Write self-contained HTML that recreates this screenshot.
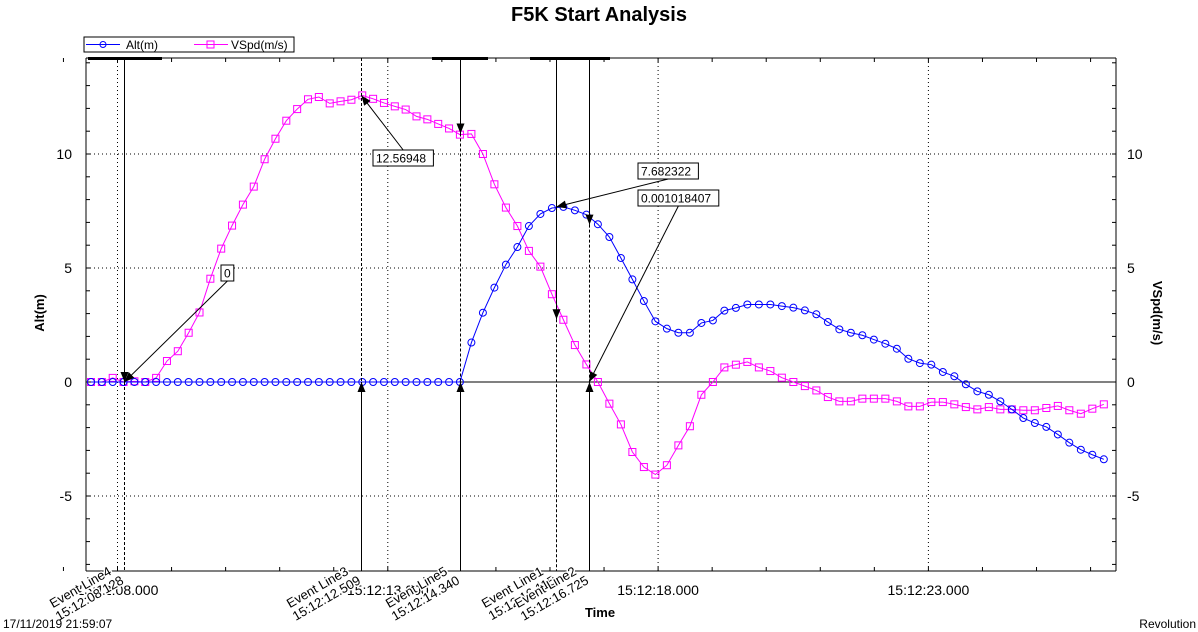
<!DOCTYPE html>
<html><head><meta charset="utf-8"><style>
body{margin:0;background:#fff;}
svg{display:block;font-family:"Liberation Sans",sans-serif;}
</style></head><body>
<svg id="chart" width="1198" height="632" viewBox="0 0 1198 632" xmlns="http://www.w3.org/2000/svg">
<text x="599" y="21" text-anchor="middle" font-size="20" font-weight="bold">F5K Start Analysis</text>
<g>
<rect x="84" y="37" width="210" height="15" fill="#fff" stroke="#000"/>
<line x1="86" y1="44.5" x2="120" y2="44.5" stroke="#00f"/><circle cx="103" cy="44.5" r="3" fill="none" stroke="#00f"/>
<text x="126" y="49" font-size="12">Alt(m)</text>
<line x1="194" y1="44.5" x2="228" y2="44.5" stroke="#f0f"/><rect x="207" y="41" width="7" height="7" fill="none" stroke="#f0f"/>
<text x="231" y="49" font-size="12">VSpd(m/s)</text>
</g>
<g id="grid"></g>
<g id="axes"></g>
<g id="series"></g>
<g id="events"></g>
<text x="600" y="617" text-anchor="middle" font-size="13" font-weight="bold">Time</text>
<text transform="translate(44,313) rotate(-90)" text-anchor="middle" font-size="13" font-weight="bold">Alt(m)</text>
<text transform="translate(1153,313) rotate(90)" text-anchor="middle" font-size="13" font-weight="bold">VSpd(m/s)</text>
<text x="3" y="628" font-size="12">17/11/2019 21:59:07</text>
<text x="1196" y="628" text-anchor="end" font-size="12">Revolution</text>
</svg>
<script>
const altValues=[0,0,0,0,0,0,0,0,0,0,0,0,0,0,0,0,0,0,0,0,0,0,0,0,0,0,0,0,0,0,0,0,0,0,0,
1.73,3.04,4.14,5.15,5.92,6.84,7.37,7.63,7.68,7.53,7.34,6.92,6.36,5.44,4.50,3.55,2.66,2.34,2.16,2.16,2.59,2.70,3.13,3.25,3.40,3.40,3.40,3.33,3.26,3.14,2.97,2.63,2.31,2.16,2.05,1.86,1.68,1.46,1.02,0.83,0.76,0.44,0.25,-0.10,-0.41,-0.56,-0.85,-1.20,-1.58,-1.80,-1.97,-2.30,-2.66,-2.97,-3.19,-3.39];
const vspdValues=[0,0,0.18,0,0.03,0,0.18,0.92,1.35,2.16,3.05,4.53,5.85,6.86,7.78,8.57,9.77,10.67,11.46,11.97,12.40,12.50,12.22,12.31,12.38,12.57,12.42,12.24,12.09,11.95,11.65,11.52,11.32,11.12,10.85,10.88,
10.0,8.67,7.65,6.84,5.75,5.06,3.85,2.73,1.62,0.77,0.0,-0.95,-1.86,-3.07,-3.73,-4.06,-3.65,-2.78,-1.94,-0.56,0,0.64,0.76,0.88,0.64,0.48,0.19,0.0,-0.18,-0.37,-0.66,-0.85,-0.85,-0.73,-0.73,-0.73,-0.85,-1.07,-1.07,-0.88,-0.88,-0.98,-1.10,-1.20,-1.10,-1.20,-1.20,-1.24,-1.24,-1.14,-1.05,-1.24,-1.39,-1.17,-0.98];
// sample timing (seconds after 15:12:08.000): logger rate changes after sample 34
const sampleStart=-0.49, sampleStepEarly=0.2007, sampleStepLate=0.2127, rateChangeIndex=34;
const xTickSeconds=[0,5,10,15];
const xTickLabels=["15:12:08.000","15:12:13.000","15:12:18.000","15:12:23.000"];
const yTicks=[10,5,0,-5];
const eventNames=["Event Line4","Event Line3","Event Line5","Event Line1","Event Line2"];
const eventSeconds=[0.128,4.509,6.340,8.115,8.725];
const eventLabels=["15:12:08.128","15:12:12.509","15:12:14.340","15:12:16.115","15:12:16.725"];
const annotationTexts=["0","12.56948","7.682322","0.001018407"];

const L=86,R=1116,T=58,B=571;
const xs=t=>117.5+t*54.06;
const ys=v=>382-v*22.8;
const sampleTime=i=>i<=rateChangeIndex?sampleStart+i*sampleStepEarly:sampleStart+rateChangeIndex*sampleStepEarly+(i-rateChangeIndex)*sampleStepLate;
const NS="http://www.w3.org/2000/svg";
function mk(tag,attrs,parent){const e=document.createElementNS(NS,tag);for(const k in attrs)e.setAttribute(k,attrs[k]);parent.appendChild(e);return e;}
const grid=document.getElementById('grid'),axes=document.getElementById('axes'),series=document.getElementById('series'),events=document.getElementById('events');

yTicks.forEach(v=>{if(v!==0){const l=mk('line',{x1:L,x2:R,y1:ys(v),y2:ys(v),stroke:'#000','stroke-dasharray':'1,3'},grid);

}});
xTickSeconds.forEach(s=>{const l=mk('line',{x1:xs(s),x2:xs(s),y1:T,y2:B,stroke:'#000','stroke-dasharray':'1,3'},grid);

});
const zl=mk('line',{x1:L,x2:R,y1:ys(0),y2:ys(0),stroke:'#000'},grid);



mk('line',{x1:L,x2:L,y1:T,y2:B,stroke:'#000'},axes);
mk('line',{x1:R,x2:R,y1:T,y2:B,stroke:'#000'},axes);
mk('line',{x1:L,x2:R,y1:T,y2:T,stroke:'#000'},axes);
mk('line',{x1:L,x2:R,y1:B,y2:B,stroke:'#000'},axes);
[[88,162],[432,488],[530,610]].forEach(p=>mk('line',{x1:p[0],x2:p[1],y1:T+0.5,y2:T+0.5,stroke:'#000','stroke-width':3},axes));
for(let v=-8;v<=14;v++){mk('line',{x1:L,x2:L+4,y1:ys(v),y2:ys(v),stroke:'#000'},axes);mk('line',{x1:R-4,x2:R,y1:ys(v),y2:ys(v),stroke:'#000'},axes);}
for(let s=-1;s<=18;s++){mk('line',{x1:xs(s),x2:xs(s),y1:B,y2:B-4,stroke:'#000'},axes);mk('line',{x1:xs(s),x2:xs(s),y1:T,y2:T+4,stroke:'#000'},axes);}
yTicks.forEach(v=>{
const a=mk('text',{x:72,y:ys(v)+5,'text-anchor':'end','font-size':14},axes);a.textContent=v;


const b=mk('text',{x:1127,y:ys(v)+5,'font-size':14},axes);b.textContent=v;

});
xTickSeconds.forEach((s,i)=>{const t=mk('text',{x:xs(s),y:595,'text-anchor':'middle','font-size':14},axes);t.textContent=xTickLabels[i];

});

function drawSeries(vals,color,shape,name){
const pts=vals.map((v,i)=>[xs(sampleTime(i)),ys(v)]);
const pl=mk('polyline',{points:pts.map(p=>p.join(',')).join(' '),fill:'none',stroke:color},series);


pts.forEach(p=>{let m;
if(shape==='c')m=mk('circle',{cx:p[0],cy:p[1],r:3.5,fill:'none',stroke:color},series);
else m=mk('rect',{x:p[0]-3.5,y:p[1]-3.5,width:7,height:7,fill:'none',stroke:color},series);

});}
drawSeries(vspdValues,'#f0f','s','vspd');
drawSeries(altValues,'#00f','c','alt');

const evTop=[0,null,10.9,2.75,6.9];
const evBottomSolid=[false,true,true,false,true];
function arrow(x,y,dir){const h=10,w=4;const d=dir>0?`M${x},${y}L${x-w},${y-h}L${x+w},${y-h}Z`:`M${x},${y}L${x-w},${y+h}L${x+w},${y+h}Z`;mk('path',{d:d,fill:'#000'},events);}
eventSeconds.forEach((s,i)=>{const x=Math.round(xs(s))+0.5;
if(evTop[i]!==null){const l=mk('line',{x1:x,x2:x,y1:T,y2:ys(evTop[i]),stroke:'#000'},events);


arrow(x,ys(evTop[i]),1);
mk('line',{x1:x,x2:x,y1:ys(evTop[i]),y2:B,stroke:'#000','stroke-dasharray':'3,2'},events);}
else{mk('line',{x1:x,x2:x,y1:T,y2:ys(0),stroke:'#000','stroke-dasharray':'3,2'},events);}
if(evBottomSolid[i]){mk('line',{x1:x,x2:x,y1:ys(0),y2:B,stroke:'#000'},events);arrow(x,ys(0),-1);}
const g=mk('g',{transform:`translate(${x},583) rotate(-30)`},events);


const t1=mk('text',{x:-6,y:-14,'text-anchor':'end','font-size':13,stroke:'#fff','stroke-width':3,'paint-order':'stroke'},g);t1.textContent=eventNames[i];
const t2=mk('text',{x:0,y:0,'text-anchor':'end','font-size':13,stroke:'#fff','stroke-width':3,'paint-order':'stroke'},g);t2.textContent=eventLabels[i];});

const ann=[[221,265,xs(0.128),ys(0)],[373,150,xs(4.509),ys(12.57)],[638,163,xs(8.115),ys(7.68)],[638,190,xs(8.725),ys(0)]];
ann.forEach((a,i)=>{const tw=annotationTexts[i].length*6.8+6;
const ax=a[0]+tw/2,ay=i===1?a[1]:a[1]+16;
mk('line',{x1:ax,y1:ay,x2:a[2],y2:a[3],stroke:'#000'},events);
const ang=Math.atan2(a[3]-ay,a[2]-ax);const hx=a[2],hy=a[3];
mk('path',{d:`M${hx},${hy}L${hx-10*Math.cos(ang)+4*Math.sin(ang)},${hy-10*Math.sin(ang)-4*Math.cos(ang)}L${hx-10*Math.cos(ang)-4*Math.sin(ang)},${hy-10*Math.sin(ang)+4*Math.cos(ang)}Z`,fill:'#000'},events);
const r=mk('rect',{x:a[0],y:a[1],width:tw,height:16,fill:'#fff',stroke:'#000'},events);


const t=mk('text',{x:a[0]+3,y:a[1]+12.5,'font-size':12},events);t.textContent=annotationTexts[i];});
</script>
</body></html>
